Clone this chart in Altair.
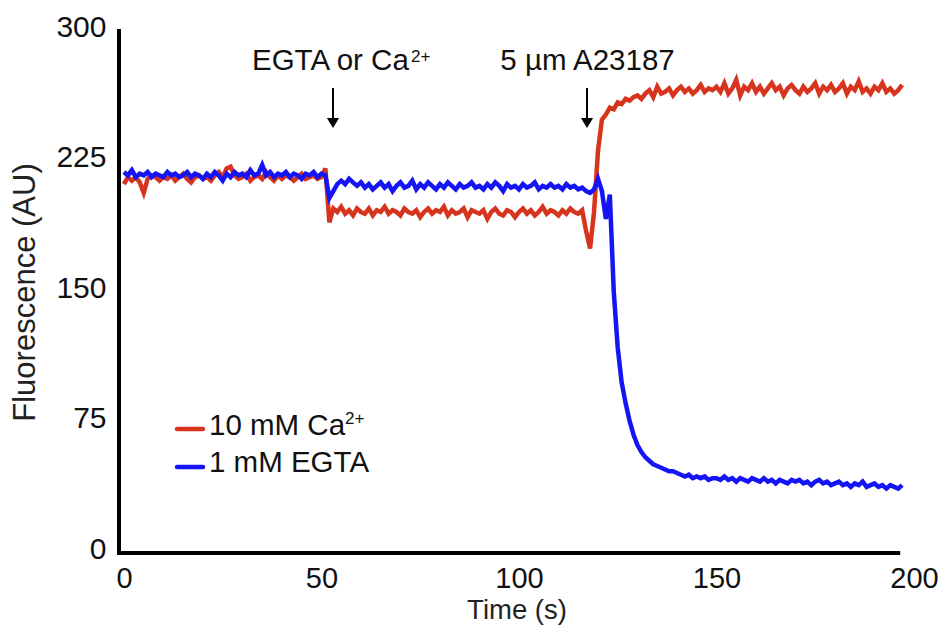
import altair as alt
import pandas as pd

# Time (s), sampled once per second
time_s = list(range(0, 198))

# 10 mM Ca2+ trace (AU)
ca_trace = [
    212, 216, 214, 216, 213, 207, 215, 217, 216, 214,
    216, 215, 217, 214, 216, 218, 215, 213, 216, 217,
    215, 216, 214, 217, 219, 216, 221, 222, 217, 215,
    216, 218, 214, 216, 217, 215, 219, 216, 214, 217,
    215, 217, 216, 214, 216, 218, 215, 216, 217, 215,
    216, 221, 190, 198, 196, 199, 195, 197, 194, 198,
    196, 195, 198, 194, 197, 196, 199, 195, 197, 196,
    194, 198, 196, 195, 197, 193, 196, 198, 195, 197,
    196, 199, 194, 197, 195, 196, 198, 193, 197, 196,
    195, 197, 192, 196, 198, 195, 194, 197, 196, 193,
    196, 198, 195, 197, 194, 196, 199, 195, 197, 196,
    194, 197, 195, 198, 196, 195, 197, 185, 175, 196,
    231, 249, 252, 256, 255, 259, 258, 261, 260, 262,
    263, 261, 264, 266, 262, 268, 264, 265, 267, 263,
    266, 268, 265, 267, 264, 266, 269, 265, 267, 266,
    268, 265, 270, 264, 267, 272, 263, 268, 266, 270,
    265, 268, 264, 267, 270, 266, 268, 263, 267, 269,
    266, 264, 268, 265, 267, 270, 264, 268, 266, 269,
    265, 267, 270, 264, 268, 266, 271, 265, 267, 264,
    268, 266, 270, 265, 267, 264, 266, 269,
]

# 1 mM EGTA trace (AU)
egta_trace = [
    219, 217, 220, 216, 218, 217, 219, 216, 218, 217,
    216, 219, 217, 218, 216, 217, 219, 216, 218, 217,
    215, 218, 216, 219, 217, 214, 218, 216, 219, 217,
    218, 216, 220, 217, 218, 223, 217, 219, 216, 218,
    217, 219, 216, 218, 217, 215, 218, 217, 219, 216,
    218, 217, 204, 208, 212, 214, 212, 215, 213, 211,
    213, 210, 212, 209, 211, 213, 210, 212, 208, 211,
    213, 210, 211, 214, 209, 212, 210, 213, 211, 209,
    212, 210, 213, 211, 209, 212, 210, 211, 213, 210,
    211, 209, 212, 210, 213, 211, 208, 212, 210, 211,
    209, 212, 210, 211, 213, 209, 211, 210, 212, 210,
    211, 209, 212, 210, 211, 209, 210, 208, 207, 209,
    215, 208, 192, 206, 150, 118, 98, 86, 76, 68,
    62, 58, 55, 53, 51, 50, 49, 48, 47, 47,
    46, 45, 44, 45, 43, 44, 43, 44, 42, 43,
    43, 42, 44, 42, 43, 41, 43, 42, 41, 43,
    42, 41, 43, 41, 42, 40, 42, 41, 40, 42,
    41, 42, 40, 41, 39, 41, 42, 40, 41, 39,
    40, 41, 39, 40, 38, 40, 39, 41, 38, 39,
    40, 38, 39, 37, 39, 38, 37, 39,
]

x_ticks = [0, 50, 100, 150, 200]
y_ticks = [0, 75, 150, 225, 300]

RED = "#D7341E"
BLUE = "#1414F5"
FONT = "Liberation Sans"

ca_df = pd.DataFrame({"t": time_s, "v": ca_trace})
egta_df = pd.DataFrame({"t": time_s, "v": egta_trace})

xscale = alt.Scale(domain=[-1.25, 200], nice=False, zero=False)
yscale = alt.Scale(domain=[0, 300], nice=False)

xaxis = alt.Axis(values=x_ticks, title="Time (s)", domain=False, ticks=False, tickSize=0,
                 grid=False, labelFontSize=29, titleFontSize=27.5, labelPadding=11,
                 titlePadding=3, labelFont=FONT, titleFont=FONT, labelColor="#111",
                 titleColor="#222", titleFontWeight="normal", labelFlush=False)
yaxis = alt.Axis(values=y_ticks, title="Fluorescence (AU)", domain=False, ticks=False,
                 tickSize=0, grid=False, labelFontSize=30, titleFontSize=31,
                 labelPadding=13, titlePadding=14, labelFont=FONT, titleFont=FONT,
                 labelColor="#111", titleColor="#222", titleFontWeight="normal",
                 labelOffset=-4, labelFlush=False)

red_line = alt.Chart(ca_df).mark_line(color=RED, strokeWidth=4.5).encode(
    x=alt.X("t:Q", scale=xscale, axis=xaxis),
    y=alt.Y("v:Q", scale=yscale, axis=yaxis),
)
blue_line = alt.Chart(egta_df).mark_line(color=BLUE, strokeWidth=4.5).encode(
    x=alt.X("t:Q", scale=xscale),
    y=alt.Y("v:Q", scale=yscale),
)

# Axis lines
axis_df = pd.DataFrame({"x0": [-1.25, -1.25], "x1": [196, -1.25], "y0": [0, 0], "y1": [0, 300]})
axis_lines = alt.Chart(axis_df).mark_rule(color="black", strokeWidth=4, strokeCap="square").encode(
    x=alt.X("x0:Q", scale=xscale), x2="x1:Q",
    y=alt.Y("y0:Q", scale=yscale), y2="y1:Q",
)

def text_at(txt, x, y, size=29.5, align="left", color="#111"):
    return alt.Chart(pd.DataFrame({"s": [txt]})).mark_text(
        font=FONT, fontSize=size, align=align, baseline="alphabetic", color=color
    ).encode(x=alt.value(x), y=alt.value(y), text="s:N")

# Annotations (pixel positions within the plot area)
annots = [
    text_at("EGTA or Ca", 133, 39),
    text_at("2+", 292, 31, size=17),
    text_at("5 µm A23187", 468.5, 39, align="center"),
    text_at("10 mM Ca", 90, 404),
    text_at("2+", 226, 393, size=17),
    text_at("1 mM EGTA", 90, 441),
]

arrow_shafts = [
    alt.Chart(pd.DataFrame({"a": [0]})).mark_rule(color="black", strokeWidth=2).encode(
        x=alt.value(xp), y=alt.value(57), y2=alt.value(91))
    for xp in (214, 468)
]
arrow_heads = [
    alt.Chart(pd.DataFrame({"a": [0]})).mark_point(
        shape="M-1,-0.8L1,-0.8L0,0.8Z", filled=True, color="black", opacity=1, size=150
    ).encode(x=alt.value(xp), y=alt.value(92))
    for xp in (214, 468)
]

legend_lines = [
    alt.Chart(pd.DataFrame({"a": [0]})).mark_rule(color=c, strokeWidth=4.5, strokeCap="round").encode(
        x=alt.value(58), x2=alt.value(84), y=alt.value(yp))
    for c, yp in ((RED, 398), (BLUE, 436))
]

chart = alt.layer(
    red_line, blue_line, axis_lines, *annots, *arrow_shafts, *arrow_heads, *legend_lines
).properties(
    width=795, height=522,
    autosize=alt.AutoSizeParams(type="none"),
    padding={"left": 111, "top": 23, "right": 25, "bottom": 72},
    background="white",
).configure_view(stroke=None)

chart.save("out.html", embed_options={"renderer": "svg", "actions": False})
